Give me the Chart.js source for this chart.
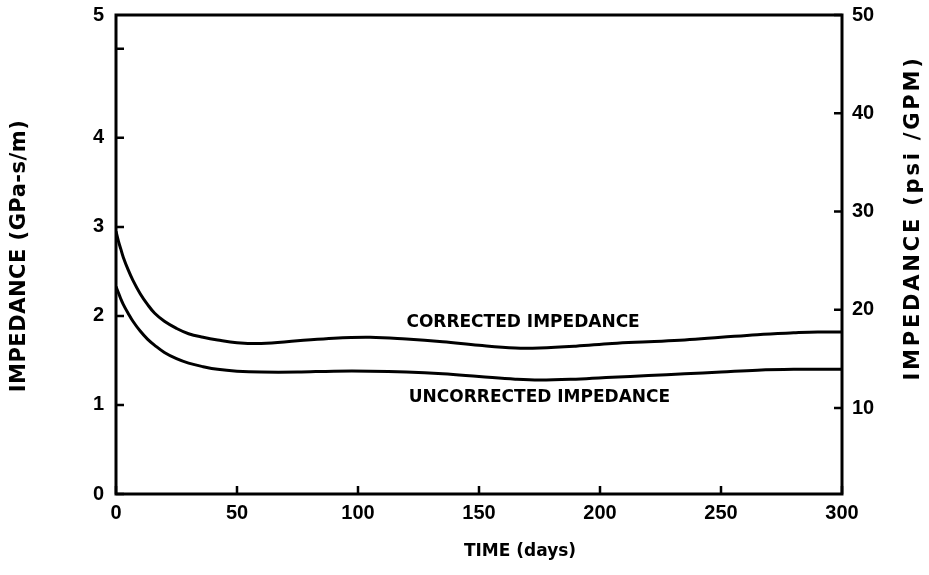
<!DOCTYPE html>
<html>
<head>
<meta charset="utf-8">
<script src="https://cdn.jsdelivr.net/npm/chart.js@4.4.1/dist/chart.umd.min.js"></script>
<style>
  html, body { margin: 0; background: #fff; }
</style>
</head>
<body>
<canvas id="impedanceChart" width="929" height="575"></canvas>
<script>
// Data
const days = [0, 1, 2, 3, 5, 7, 10, 13, 16, 20, 25, 30, 36, 42, 50, 60, 75, 90, 105, 120, 135, 150, 165, 175, 190, 205, 220, 235, 250, 265, 280, 290, 300];
const corrected = [2.95, 2.84, 2.75, 2.66, 2.52, 2.40, 2.25, 2.13, 2.03, 1.94, 1.86, 1.80, 1.76, 1.73, 1.70, 1.69, 1.72, 1.75, 1.76, 1.74, 1.71, 1.67, 1.64, 1.64, 1.66, 1.69, 1.71, 1.73, 1.76, 1.79, 1.81, 1.82, 1.82];
const uncorrected = [2.33, 2.26, 2.19, 2.13, 2.03, 1.94, 1.83, 1.74, 1.67, 1.59, 1.52, 1.47, 1.43, 1.40, 1.38, 1.37, 1.37, 1.38, 1.38, 1.37, 1.35, 1.32, 1.29, 1.28, 1.29, 1.31, 1.33, 1.35, 1.37, 1.39, 1.40, 1.40, 1.40];

const xTicks = [0, 50, 100, 150, 200, 250, 300];
const leftTicks = [0, 1, 2, 3, 4, 5];
const rightTicks = [10, 20, 30, 40, 50];
const leftTop = 5.38;     // top edge of the box on the GPa-s/m scale
const rightBottom = 1.25; // bottom edge of the box on the psi/GPM scale

const ink = '#000';
const tickFont = { family: "'Liberation Sans', Arial, sans-serif", size: 20, weight: 'bold' };

const toPoints = (ys) => days.map((d, i) => ({ x: d, y: ys[i] }));

// drop the extra room Chart.js keeps for the end labels
const noPad = s => { s.paddingTop = 0; s.paddingBottom = 0; s.paddingLeft = 0; s.paddingRight = 0; };

function rotatedText(ctx, text, x, y, spacing) {
  ctx.save();
  ctx.translate(x, y);
  ctx.rotate(-Math.PI / 2);
  ctx.letterSpacing = spacing;
  ctx.fillText(text, 0, 0);
  ctx.restore();
}

// box, inward tick marks, titles and curve labels
const frame = {
  id: 'frame',
  afterDraw(chart) {
    const { ctx, chartArea: a, scales } = chart;
    ctx.save();
    ctx.strokeStyle = ink;
    ctx.lineWidth = 3;
    ctx.strokeRect(a.left, a.top, a.right - a.left, a.bottom - a.top);

    ctx.lineWidth = 2.5;
    ctx.beginPath();
    xTicks.forEach(v => {
      const px = scales.x.getPixelForValue(v);
      ctx.moveTo(px, a.bottom); ctx.lineTo(px, a.bottom - 8);
    });
    leftTicks.forEach(v => {
      const py = scales.y.getPixelForValue(v);
      ctx.moveTo(a.left, py); ctx.lineTo(a.left + 8, py);
    });
    rightTicks.forEach(v => {
      const py = scales.y2.getPixelForValue(v);
      ctx.moveTo(a.right, py); ctx.lineTo(a.right - 8, py);
    });
    ctx.stroke();

    ctx.fillStyle = ink;
    ctx.font = "bold 17px 'DejaVu Sans', sans-serif";
    ctx.textBaseline = 'middle';
    ctx.textAlign = 'left';
    ctx.fillText('CORRECTED IMPEDANCE', scales.x.getPixelForValue(120), scales.y.getPixelForValue(1.92));
    ctx.fillText('UNCORRECTED IMPEDANCE', scales.x.getPixelForValue(121), scales.y.getPixelForValue(1.08));

    ctx.textAlign = 'center';
    ctx.fillText('TIME (days)', 520, 552);

    ctx.font = "bold 21px 'DejaVu Sans', sans-serif";
    rotatedText(ctx, 'IMPEDANCE (GPa-s/m)', 20, 256, '0.5px');
    rotatedText(ctx, 'IMPEDANCE (psi /GPM)', 914, 218, '2.8px');
    ctx.restore();
  }
};

new Chart(document.getElementById('impedanceChart'), {
  type: 'line',
  data: {
    datasets: [
      { label: 'Corrected impedance', data: toPoints(corrected) },
      { label: 'Uncorrected impedance', data: toPoints(uncorrected) }
    ]
  },
  options: {
    responsive: false,
    animation: false,
    layout: { padding: { top: 15, left: 0, right: 0, bottom: 0 } },
    elements: {
      line: { borderColor: ink, borderWidth: 3, tension: 0.4, capBezierPoints: true },
      point: { radius: 0 }
    },
    plugins: { legend: { display: false }, tooltip: { enabled: false } },
    scales: {
      x: {
        type: 'linear', position: 'bottom', min: 0, max: 300,
        afterBuildTicks: s => { s.ticks = xTicks.map(v => ({ value: v })); },
        afterFit: s => { s.height = 81; noPad(s); },
        grid: { display: false, drawTicks: false },
        border: { display: false },
        ticks: { color: ink, font: tickFont, padding: 7, maxRotation: 0 }
      },
      y: {
        type: 'linear', position: 'left', min: 0, max: leftTop,
        afterBuildTicks: s => { s.ticks = leftTicks.concat([leftTop]).map(v => ({ value: v })); },
        afterFit: s => { s.width = 116; noPad(s); },
        grid: { display: false, drawTicks: false },
        border: { display: false },
        ticks: {
          color: ink, font: tickFont, padding: 12,
          callback: v => v === leftTop ? '5' : (v === 5 ? '' : String(v))
        }
      },
      y2: {
        type: 'linear', position: 'right', min: rightBottom, max: 50,
        afterBuildTicks: s => { s.ticks = rightTicks.map(v => ({ value: v })); },
        afterFit: s => { s.width = 87; noPad(s); },
        grid: { display: false, drawTicks: false },
        border: { display: false },
        ticks: { color: ink, font: tickFont, padding: 10 }
      }
    }
  },
  plugins: [frame]
});
</script>
</body>
</html>
